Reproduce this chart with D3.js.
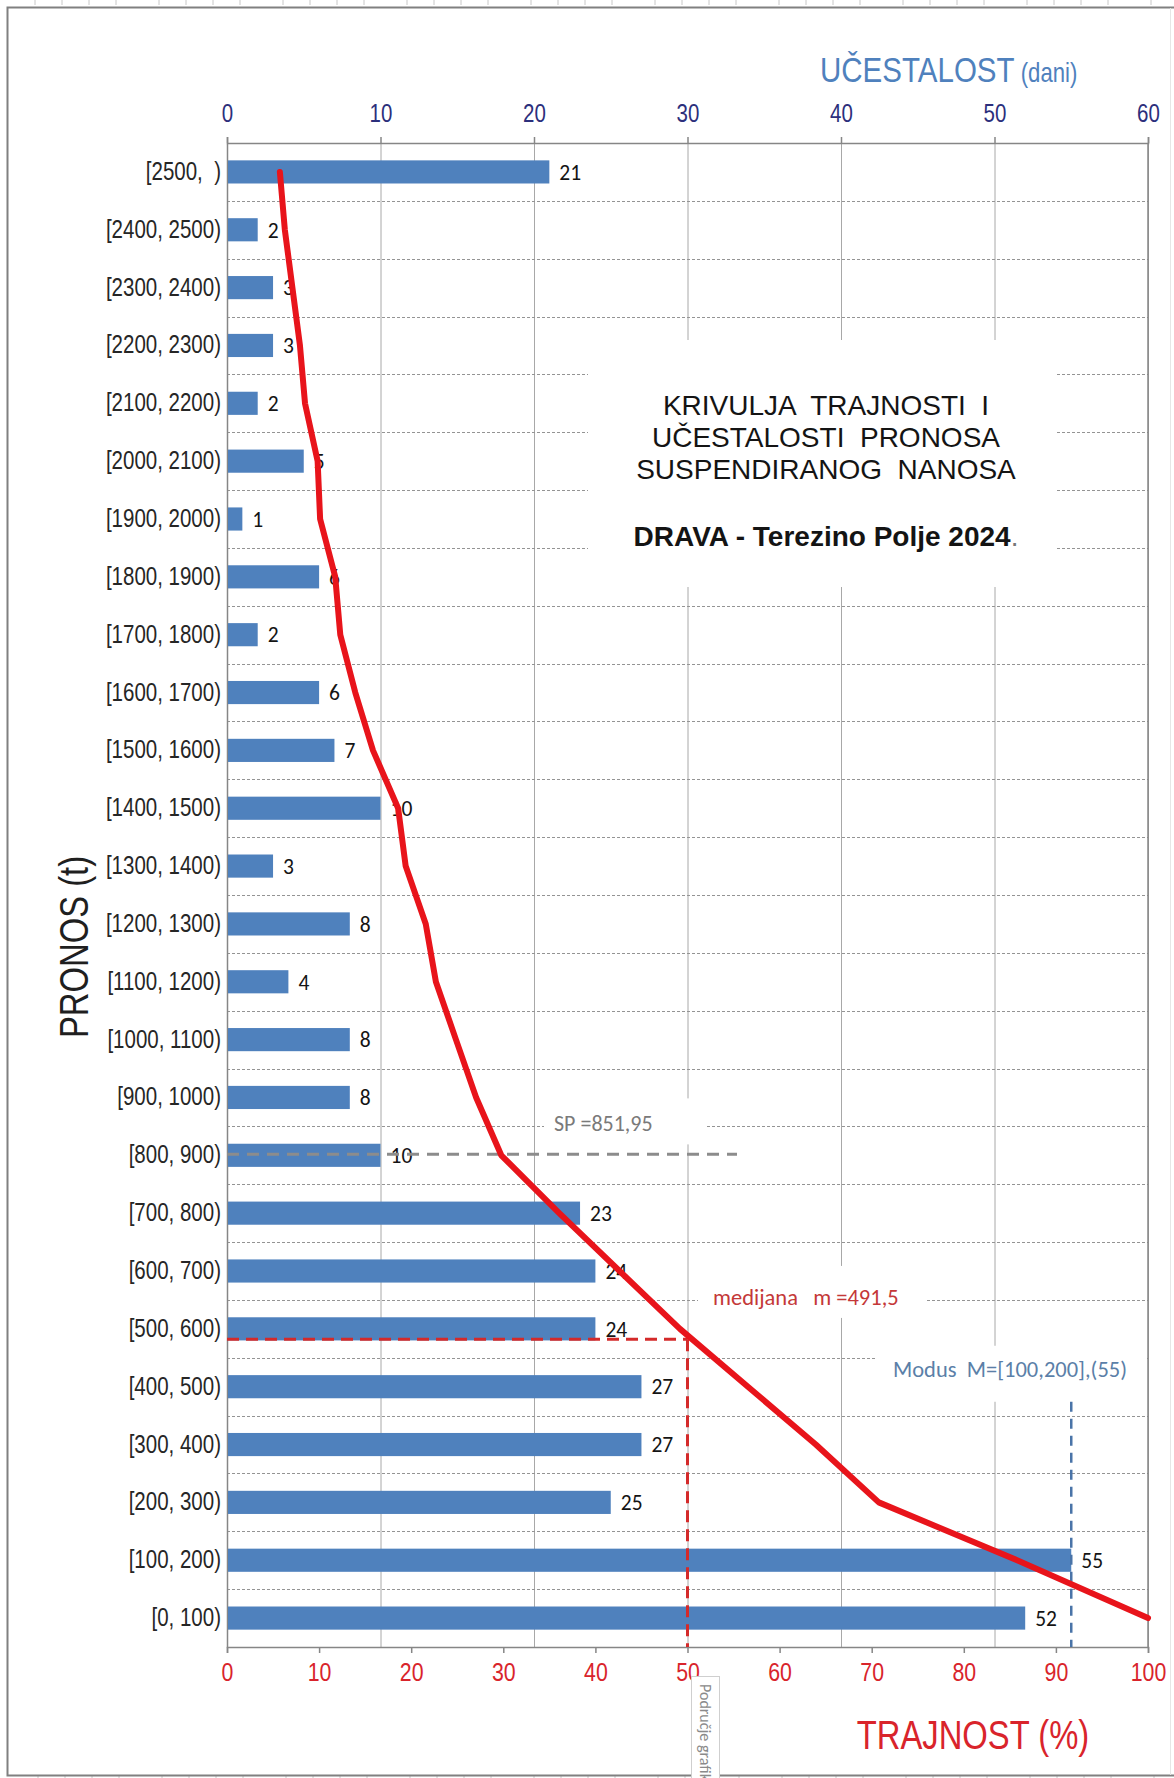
<!DOCTYPE html>
<html>
<head>
<meta charset="utf-8">
<script src="https://cdn.jsdelivr.net/npm/d3@7"></script>
<style>
  html, body { margin: 0; padding: 0; background: #fff; }
  svg { display: block; }
  text { white-space: pre; }
</style>
</head>
<body>
<svg id="chart" width="1174" height="1778"></svg>
<script>
// Razredi pronosa (t), od najvećeg prema najmanjem
const categories = [
  "[2500,  )", "[2400, 2500)", "[2300, 2400)", "[2200, 2300)", "[2100, 2200)",
  "[2000, 2100)", "[1900, 2000)", "[1800, 1900)", "[1700, 1800)", "[1600, 1700)",
  "[1500, 1600)", "[1400, 1500)", "[1300, 1400)", "[1200, 1300)", "[1100, 1200)",
  "[1000, 1100)", "[900, 1000)", "[800, 900)", "[700, 800)", "[600, 700)",
  "[500, 600)", "[400, 500)", "[300, 400)", "[200, 300)", "[100, 200)", "[0, 100)"
];
// Učestalost – broj dana u razredu
const ucestalost = [21, 2, 3, 3, 2, 5, 1, 6, 2, 6, 7, 10, 3, 8, 4, 8, 8, 10, 23, 24, 24, 27, 27, 25, 55, 52];
// Trajnost (%) – udio dana s pronosom većim ili jednakim donjoj granici razreda
const trajnost = [5.74, 6.28, 7.10, 7.92, 8.47, 9.84, 10.11, 11.75, 12.30, 13.93, 15.85, 18.58, 19.40,
                  21.58, 22.68, 24.86, 27.05, 29.78, 36.07, 42.62, 49.18, 56.56, 63.93, 70.77, 85.79, 100];
const freqTicks = [0, 10, 20, 30, 40, 50, 60];
const pctTicks = [0, 10, 20, 30, 40, 50, 60, 70, 80, 90, 100];
// Karakteristične vrijednosti
const srednjiPronos = 851.95;
const medijanaTrajnost = 50;
const modusDani = 55;
const spLabel = "SP =851,95";
const medijanaLabel = "medijana   m =491,5";
const modusLabel = "Modus  M=[100,200],(55)";
const titleLines = ["KRIVULJA  TRAJNOSTI  I", "UČESTALOSTI  PRONOSA", "SUSPENDIRANOG  NANOSA"];
const subtitle = "DRAVA - Terezino Polje 2024";

const W = 1174, H = 1778;
const plot = { left: 227, right: 1148, top: 143, bottom: 1647 };
const NARROW = 0.82;
const SANS = "'Liberation Sans', Arial, sans-serif";
const CAL = "Carlito, Lato, 'Open Sans', sans-serif";

const svg = d3.select("#chart");

// --- okvir i oznake ravnala ---
const frame = svg.append("g");
const rulerX = [];
for (let g = 0; g < 10; g++) for (let k = 0; k < 4; k++) rulerX.push(35 + g * 124 + k * 27);
frame.selectAll("line.rt").data(rulerX.filter(x => x < W)).join("line")
  .attr("x1", d => d).attr("x2", d => d).attr("y1", 0).attr("y2", 5)
  .attr("stroke", "#c8c8c8").attr("stroke-width", 1);
frame.selectAll("line.rb").data(rulerX.filter(x => x < W)).join("line")
  .attr("x1", d => d + 3).attr("x2", d => d + 3).attr("y1", H - 2).attr("y2", H)
  .attr("stroke", "#c8c8c8").attr("stroke-width", 1);
frame.append("path")
  .attr("d", `M${W},7.5 H7.5 V1775.5 H${W}`)
  .attr("fill", "none").attr("stroke", "#808080").attr("stroke-width", 2);
frame.append("line").attr("x1", 1170.5).attr("x2", 1170.5).attr("y1", 8).attr("y2", 1775)
  .attr("stroke", "#e6e6e6").attr("stroke-width", 1);

// --- skale ---
const xFreq = d3.scaleLinear().domain([0, 60]).range([plot.left, plot.right]);
const xPct = d3.scaleLinear().domain([0, 100]).range([plot.left, plot.right]);
const yBand = d3.scaleBand().domain(categories).range([plot.top, plot.bottom])
  .paddingInner(0.6).paddingOuter(0.3);
const yMid = c => yBand(c) + yBand.bandwidth() / 2;
// pronos (t) -> položaj; razred [a, a+100) ima središte u a+50
const yPronos = d3.scaleLinear().domain([0, 2600]).range([plot.bottom, plot.top]);

// --- mreža ---
const grid = svg.append("g");
grid.selectAll("line.v").data(freqTicks).join("line")
  .attr("x1", d => xFreq(d) + 0.5).attr("x2", d => xFreq(d) + 0.5)
  .attr("y1", plot.top).attr("y2", plot.bottom)
  .attr("stroke", "#a8a8a8").attr("stroke-width", 1);
const bounds = d3.range(1, categories.length).map(i => (yMid(categories[i - 1]) + yMid(categories[i])) / 2);
grid.selectAll("line.h").data(bounds).join("line")
  .attr("x1", plot.left).attr("x2", plot.right)
  .attr("y1", d => Math.round(d) + 0.5).attr("y2", d => Math.round(d) + 0.5)
  .attr("stroke", "#949494").attr("stroke-width", 1).attr("stroke-dasharray", "3,2");

// bijele podloge natpisa
const boxes = svg.append("g");
function whiteBox(x0, y0, x1, y1) {
  boxes.append("rect").attr("x", x0).attr("y", y0).attr("width", x1 - x0).attr("height", y1 - y0)
    .attr("fill", "#fff");
}
whiteBox(588, 340, 1057, 587);

// --- osi ---
function narrowTicks(sel) {
  sel.selectAll(".tick text").each(function () {
    const t = d3.select(this);
    const y = +t.attr("y") || 0, x = +t.attr("x") || 0;
    t.attr("x", 0).attr("y", 0).attr("transform", `translate(${x},${y}) scale(${NARROW},1)`);
  });
}
const axTop = svg.append("g").attr("transform", `translate(0,${plot.top})`)
  .call(d3.axisTop(xFreq).tickValues(freqTicks).tickSize(6).tickPadding(15).tickFormat(d3.format("d")));
axTop.selectAll("path, line").attr("stroke", "#868686").attr("stroke-width", 1.5);
axTop.selectAll("text").attr("fill", "#2c2f7c").style("font-family", SANS).style("font-size", "25px");
narrowTicks(axTop);

const axBot = svg.append("g").attr("transform", `translate(0,${plot.bottom})`)
  .call(d3.axisBottom(xPct).tickValues(pctTicks).tickSize(6).tickPadding(10).tickFormat(d3.format("d")));
axBot.selectAll("path, line").attr("stroke", "#868686").attr("stroke-width", 1.5);
axBot.selectAll("text").attr("fill", "#d9242b").style("font-family", SANS).style("font-size", "26px");
narrowTicks(axBot);

const axLeft = svg.append("g").attr("transform", `translate(${plot.left},0)`)
  .call(d3.axisLeft(yBand).tickSize(0).tickPadding(6));
axLeft.select("path").attr("stroke", "#868686").attr("stroke-width", 1.5);
axLeft.selectAll("text").attr("fill", "#262626").style("font-family", SANS).style("font-size", "25px");
narrowTicks(axLeft);

svg.append("line").attr("x1", plot.right).attr("x2", plot.right)
  .attr("y1", plot.top).attr("y2", plot.bottom).attr("stroke", "#868686").attr("stroke-width", 1.5);

// --- natpisi osi ---
const uc = svg.append("text")
  .attr("transform", `translate(820,82) scale(${NARROW},1)`)
  .attr("fill", "#4f81bd").style("font-family", SANS);
uc.append("tspan").style("font-size", "36px").text("UČESTALOST");
uc.append("tspan").style("font-size", "27px").text(" (dani)");

svg.append("text")
  .attr("transform", `translate(973,1749) scale(${NARROW},1)`)
  .attr("text-anchor", "middle").attr("fill", "#d9242b")
  .style("font-family", SANS).style("font-size", "40px").text("TRAJNOST (%)");

svg.append("text")
  .attr("transform", `translate(88,947) rotate(-90) scale(${NARROW},1)`)
  .attr("text-anchor", "middle").attr("fill", "#1f1f1f")
  .style("font-family", SANS).style("font-size", "40px").text("PRONOS (t)");

// --- naslov ---
const title = svg.append("g").style("font-family", SANS).attr("fill", "#141414");
titleLines.forEach((s, i) => {
  title.append("text").attr("x", 826).attr("y", 415 + i * 32).attr("text-anchor", "middle")
    .style("font-size", "28px").text(s);
});
const sub = title.append("text").attr("x", 826).attr("y", 546).attr("text-anchor", "middle")
  .style("font-size", "28px").style("font-weight", "bold");
sub.append("tspan").text(subtitle);
sub.append("tspan").style("font-weight", "normal").attr("fill", "#777").text(".");

// --- karakteristične vrijednosti: položaji ---
const ySP = yPronos(srednjiPronos);
// medijana: mjesto gdje krivulja trajnosti prolazi kroz 50 %
let yMed = plot.bottom;
for (let i = 1; i < trajnost.length; i++) {
  if (trajnost[i - 1] <= medijanaTrajnost && trajnost[i] >= medijanaTrajnost) {
    const f = (medijanaTrajnost - trajnost[i - 1]) / (trajnost[i] - trajnost[i - 1]);
    yMed = yMid(categories[i - 1]) + f * (yMid(categories[i]) - yMid(categories[i - 1]));
    break;
  }
}

// podloge natpisa karakterističnih vrijednosti
whiteBox(544, bounds[16] - 28, 707, bounds[16] + 18);
whiteBox(698, bounds[19] - 34, 927, bounds[19] + 18);
whiteBox(877, bounds[20] - 12, plot.right - 1, bounds[20] + 44);

// --- stupci učestalosti ---
svg.append("g").selectAll("rect").data(ucestalost).join("rect")
  .attr("x", xFreq(0) + 1)
  .attr("y", (d, i) => yBand(categories[i]))
  .attr("width", d => xFreq(d) - xFreq(0) - 1)
  .attr("height", yBand.bandwidth())
  .attr("fill", "#4f81bd");

svg.append("g").selectAll("text").data(ucestalost).join("text")
  .attr("x", d => xFreq(d) + 10)
  .attr("y", (d, i) => yMid(categories[i]))
  .attr("dy", "0.36em")
  .attr("fill", "#141414")
  .style("font-family", CAL).style("font-size", "21.5px")
  .text(d => d);

// --- linije karakterističnih vrijednosti ---
svg.append("line").attr("x1", plot.left).attr("x2", 737)
  .attr("y1", ySP).attr("y2", ySP)
  .attr("stroke", "#8c8c8c").attr("stroke-width", 3).attr("stroke-dasharray", "12,8");
svg.append("text").attr("x", 554).attr("y", bounds[16] - 3).attr("dy", "0.35em")
  .attr("fill", "#7a7a7a").style("font-family", CAL).style("font-size", "22px").text(spLabel);

const medG = svg.append("g").attr("stroke", "#d42a2a").attr("stroke-width", 3)
  .attr("stroke-dasharray", "12,7").attr("fill", "none");
medG.append("line").attr("x1", plot.left).attr("x2", xPct(medijanaTrajnost))
  .attr("y1", yMed + 4).attr("y2", yMed + 4);
medG.append("line").attr("x1", xPct(medijanaTrajnost)).attr("x2", xPct(medijanaTrajnost))
  .attr("y1", yMed + 4).attr("y2", plot.bottom);
svg.append("text").attr("x", 713).attr("y", bounds[19] - 3).attr("dy", "0.35em")
  .attr("fill", "#c43838").style("font-family", CAL).style("font-size", "22.5px").text(medijanaLabel);

svg.append("line").attr("x1", xFreq(modusDani)).attr("x2", xFreq(modusDani))
  .attr("y1", bounds[20] + 44).attr("y2", plot.bottom)
  .attr("stroke", "#4a74a8").attr("stroke-width", 2.5).attr("stroke-dasharray", "10,7");
svg.append("text").attr("x", 893).attr("y", bounds[20] + 11).attr("dy", "0.35em")
  .attr("fill", "#5b7fa8").style("font-family", CAL).style("font-size", "22.5px").text(modusLabel);

// --- krivulja trajnosti ---
const line = d3.line()
  .x(d => xPct(d))
  .y((d, i) => yMid(categories[i]));
svg.append("path").datum(trajnost)
  .attr("d", line)
  .attr("fill", "none").attr("stroke", "#e8141b").attr("stroke-width", 6)
  .attr("stroke-linejoin", "round").attr("stroke-linecap", "round");

// --- oblačić "Područje grafikona" ---
const tip = svg.append("g");
tip.append("rect").attr("x", 691.5).attr("y", 1676.5).attr("width", 28).attr("height", 120)
  .attr("fill", "#fff").attr("stroke", "#cfcfcf");
tip.append("text").attr("transform", "translate(700,1684) rotate(90)")
  .attr("fill", "#8a8a8a").style("font-family", CAL).style("font-size", "16px")
  .text("Područje grafikona");
</script>
</body>
</html>
